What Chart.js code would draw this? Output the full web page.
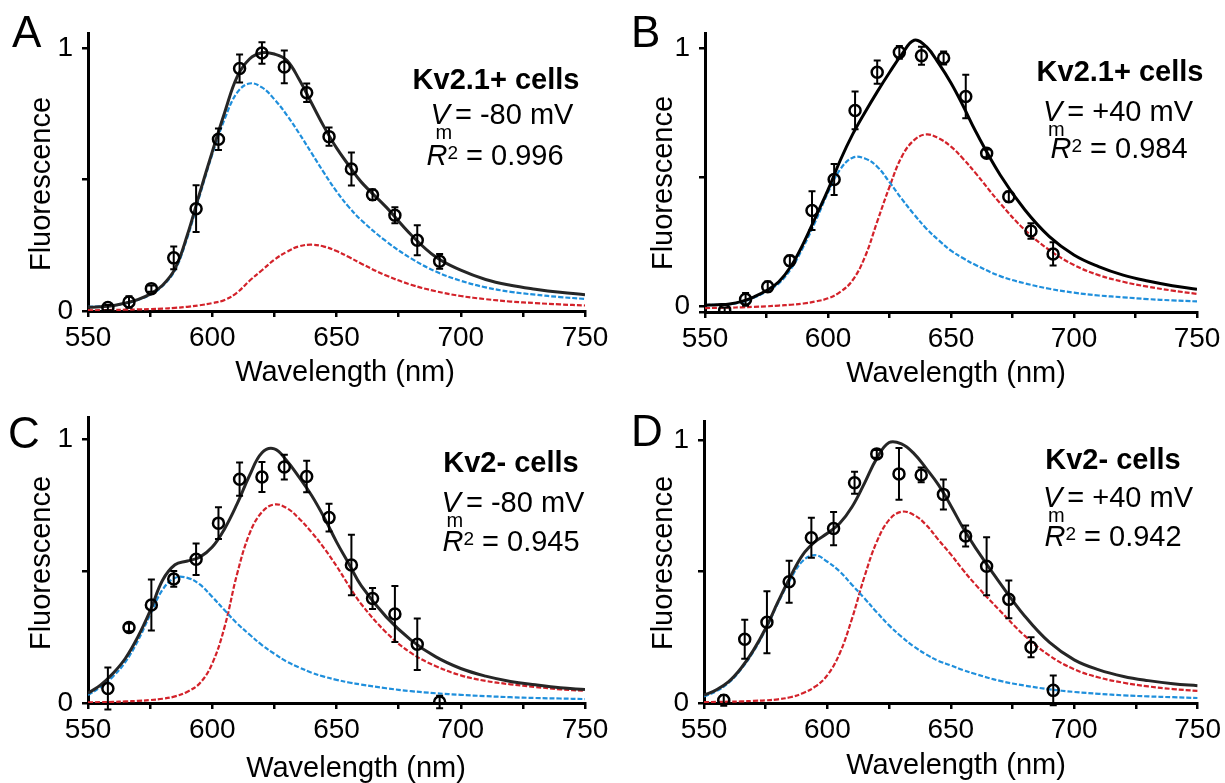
<!DOCTYPE html>
<html>
<head>
<meta charset="utf-8">
<script src="https://cdn.jsdelivr.net/npm/chart.js@4.4.1/dist/chart.umd.min.js"></script>
<style>
  html, body { margin: 0; padding: 0; background: #fff; }
  body { width: 1225px; height: 783px; position: relative; overflow: hidden;
         font-family: "Liberation Sans", Arial, sans-serif; color: #000; }
  canvas { position: absolute; }
  .letter { position: absolute; font-size: 44px; line-height: 44px; }
  .note { position: absolute; font-size: 29px; line-height: 29px; white-space: nowrap;
          transform: translateX(-50%); }
  .vm { position: relative; display: inline-block; font-style: italic; margin-right: 5px; }
  .vm .sub { position: absolute; left: 5px; top: 22px; font-size: 20px; line-height: 20px; font-style: normal; }
  .sup { font-size: 19px; line-height: 0; vertical-align: 6px; }
</style>
</head>
<body>
<canvas id="panelA" width="613" height="392" style="left:0;top:0"></canvas>
<canvas id="panelB" width="612" height="392" style="left:613px;top:0"></canvas>
<canvas id="panelC" width="613" height="391" style="left:0;top:392px"></canvas>
<canvas id="panelD" width="612" height="391" style="left:613px;top:392px"></canvas>

<div class="letter" style="left:12px;top:10px">A</div>
<div class="letter" style="left:631px;top:10px">B</div>
<div class="letter" style="left:8px;top:411px">C</div>
<div class="letter" style="left:631px;top:409px">D</div>

<div class="note" style="left:496px;top:65px"><b>Kv2.1+ cells</b></div>
<div class="note" style="left:502px;top:100px"><span class="vm">V<span class="sub">m</span></span>= -80 mV</div>
<div class="note" style="left:495px;top:141px"><i>R</i><span class="sup">2</span> = 0.996</div>

<div class="note" style="left:1120px;top:57px"><b>Kv2.1+ cells</b></div>
<div class="note" style="left:1118px;top:97px"><span class="vm">V<span class="sub">m</span></span>= +40 mV</div>
<div class="note" style="left:1119px;top:134px"><i>R</i><span class="sup">2</span> = 0.984</div>

<div class="note" style="left:511px;top:448px"><b>Kv2- cells</b></div>
<div class="note" style="left:513px;top:488px"><span class="vm">V<span class="sub">m</span></span>= -80 mV</div>
<div class="note" style="left:511px;top:527px"><i>R</i><span class="sup">2</span> = 0.945</div>

<div class="note" style="left:1113px;top:445px"><b>Kv2- cells</b></div>
<div class="note" style="left:1118px;top:483px"><span class="vm">V<span class="sub">m</span></span>= +40 mV</div>
<div class="note" style="left:1113px;top:522px"><i>R</i><span class="sup">2</span> = 0.942</div>

<script>
// measured wavelengths (nm) of the data points, same for all panels
const wavelengths = [558, 566.5, 575.5, 584.5, 593.5, 602.5, 611, 620, 629, 638, 647, 656, 664.5, 673.5, 682.5, 691.5]
const fitWavelengths = [550, 555, 560, 565, 570, 575, 580, 585, 590, 595, 600, 605, 610, 615, 620, 625,
                        630, 635, 640, 645, 650, 655, 660, 670, 680, 690, 700, 710, 720, 730, 740, 750]

const xTickValues = [550, 575, 600, 625, 650, 675, 700, 725, 750]

// A: Kv2.1+ cells, -80 mV
const aMean = [0.013, 0.034, 0.085, 0.202, 0.389, 0.653, 0.922, 0.981, 0.928, 0.83, 0.663, 0.54, 0.442, 0.364, 0.269, 0.189]
const aErr  = [0.01, 0.022, 0.012, 0.043, 0.089, 0.041, 0.053, 0.041, 0.062, 0.035, 0.035, 0.063, 0.02, 0.03, 0.057, 0.028]
const aFit  = [0.014, 0.016, 0.02, 0.03, 0.043, 0.064, 0.098, 0.16, 0.29, 0.45, 0.605, 0.755, 0.89, 0.958, 0.982, 0.977,
               0.953, 0.88, 0.79, 0.70, 0.62, 0.553, 0.49, 0.395, 0.29, 0.205, 0.155, 0.12, 0.098, 0.083, 0.071, 0.062]
const aBlue = [0.016, 0.018, 0.021, 0.029, 0.042, 0.062, 0.095, 0.155, 0.28, 0.44, 0.595, 0.73, 0.83, 0.865, 0.85, 0.805,
               0.745, 0.675, 0.60, 0.525, 0.455, 0.395, 0.345, 0.265, 0.20, 0.15, 0.115, 0.09, 0.073, 0.062, 0.053, 0.046]
const aRed  = [0.003, 0.003, 0.004, 0.005, 0.006, 0.007, 0.009, 0.012, 0.016, 0.022, 0.03, 0.042, 0.07, 0.115, 0.155, 0.195,
               0.225, 0.246, 0.252, 0.245, 0.228, 0.205, 0.18, 0.135, 0.10, 0.075, 0.057, 0.045, 0.036, 0.03, 0.025, 0.021]

// B: Kv2.1+ cells, +40 mV
const bMean = [-0.016, 0.026, 0.075, 0.176, 0.37, 0.49, 0.758, 0.906, 0.983, 0.97, 0.961, 0.812, 0.592, 0.424, 0.291, 0.202]
const bErr  = [0.01, 0.025, 0.02, 0.02, 0.075, 0.06, 0.073, 0.045, 0.025, 0.035, 0.025, 0.084, 0.015, 0.02, 0.03, 0.045]
const bFit  = [0.003, 0.005, 0.008, 0.018, 0.036, 0.06, 0.094, 0.155, 0.243, 0.346, 0.45, 0.565, 0.665, 0.75, 0.83, 0.905,
               0.975, 1.03, 1.005, 0.94, 0.864, 0.774, 0.677, 0.508, 0.373, 0.269, 0.198, 0.153, 0.12, 0.097, 0.079, 0.065]
const bBlue = [0.004, 0.005, 0.007, 0.016, 0.033, 0.056, 0.088, 0.145, 0.23, 0.33, 0.44, 0.53, 0.575, 0.572, 0.54, 0.48,
               0.415, 0.355, 0.30, 0.255, 0.215, 0.185, 0.159, 0.116, 0.088, 0.067, 0.052, 0.041, 0.034, 0.027, 0.022, 0.018]
const bRed  = [-0.008, -0.007, -0.006, -0.005, -0.003, -0.001, 0.002, 0.005, 0.01, 0.018, 0.03, 0.055, 0.10, 0.19, 0.327, 0.462,
               0.579, 0.643, 0.665, 0.65, 0.618, 0.57, 0.515, 0.398, 0.295, 0.217, 0.159, 0.12, 0.094, 0.075, 0.06, 0.047]

// C: Kv2- cells, -80 mV
const cMean = [0.055, 0.287, 0.372, 0.471, 0.546, 0.683, 0.85, 0.858, 0.896, 0.86, 0.704, 0.524, 0.397, 0.338, 0.223, 0.004]
const cErr  = [0.08, 0.015, 0.097, 0.03, 0.06, 0.06, 0.063, 0.057, 0.047, 0.06, 0.053, 0.115, 0.04, 0.106, 0.098, 0.024]
const cFit  = [0.037, 0.068, 0.112, 0.169, 0.25, 0.35, 0.466, 0.525, 0.539, 0.554, 0.592, 0.662, 0.756, 0.864, 0.95, 0.965,
               0.92, 0.857, 0.788, 0.705, 0.612, 0.528, 0.445, 0.327, 0.239, 0.175, 0.131, 0.102, 0.082, 0.069, 0.058, 0.051]
const cBlue = [0.03, 0.06, 0.10, 0.155, 0.235, 0.335, 0.43, 0.475, 0.475, 0.45, 0.403, 0.352, 0.302, 0.26, 0.22, 0.187,
               0.157, 0.135, 0.115, 0.10, 0.088, 0.078, 0.07, 0.056, 0.045, 0.037, 0.031, 0.026, 0.022, 0.019, 0.017, 0.015]
const cRed  = [0.002, 0.003, 0.004, 0.006, 0.008, 0.011, 0.016, 0.025, 0.043, 0.075, 0.15, 0.29, 0.49, 0.643, 0.725, 0.754,
               0.74, 0.70, 0.648, 0.588, 0.52, 0.445, 0.375, 0.268, 0.19, 0.14, 0.105, 0.084, 0.071, 0.061, 0.052, 0.046]

// D: Kv2- cells, +40 mV
const dMean = [0.01, 0.242, 0.307, 0.461, 0.628, 0.663, 0.837, 0.947, 0.871, 0.867, 0.793, 0.635, 0.52, 0.394, 0.212, 0.048]
const dErr  = [0.02, 0.074, 0.118, 0.08, 0.076, 0.063, 0.042, 0.015, 0.098, 0.028, 0.057, 0.04, 0.11, 0.072, 0.038, 0.057]
const dFit  = [0.03, 0.05, 0.081, 0.132, 0.2, 0.284, 0.385, 0.48, 0.563, 0.613, 0.645, 0.683, 0.746, 0.835, 0.93, 0.99,
               0.985, 0.949, 0.892, 0.829, 0.75, 0.665, 0.59, 0.455, 0.33, 0.23, 0.164, 0.126, 0.101, 0.085, 0.073, 0.066]
const dBlue = [0.025, 0.045, 0.077, 0.128, 0.195, 0.28, 0.38, 0.47, 0.54, 0.562, 0.537, 0.50, 0.449, 0.398, 0.345, 0.295,
               0.252, 0.215, 0.185, 0.16, 0.143, 0.125, 0.11, 0.084, 0.066, 0.052, 0.042, 0.035, 0.029, 0.025, 0.022, 0.019]
const dRed  = [0.003, 0.004, 0.005, 0.006, 0.008, 0.01, 0.014, 0.022, 0.037, 0.062, 0.106, 0.189, 0.322, 0.48, 0.613, 0.696,
               0.727, 0.715, 0.677, 0.62, 0.565, 0.505, 0.45, 0.35, 0.255, 0.18, 0.128, 0.097, 0.077, 0.063, 0.053, 0.046]

const FONT = '"Liberation Sans", Arial, sans-serif'
const BLUE = '#1f8fdc'
const RED = '#d3222a'

const pairs = (xs, ys) => xs.map((x, i) => ({ x: x, y: ys[i] }))

// vertical error bars with small caps, placed via the y scale
const errorBars = {
  id: 'errorBars',
  afterDatasetsDraw(chart) {
    const ctx = chart.ctx
    const yScale = chart.scales.y
    chart.data.datasets.forEach((ds, i) => {
      if (!ds.errors) return
      const meta = chart.getDatasetMeta(i)
      ctx.save()
      ctx.strokeStyle = '#000'
      ctx.lineWidth = 2
      meta.data.forEach((pt, j) => {
        const v = ds.data[j].y
        const top = yScale.getPixelForValue(v + ds.errors[j])
        const bot = yScale.getPixelForValue(v - ds.errors[j])
        ctx.beginPath()
        ctx.moveTo(pt.x, top); ctx.lineTo(pt.x, bot)
        ctx.moveTo(pt.x - 3.5, top); ctx.lineTo(pt.x + 3.5, top)
        ctx.moveTo(pt.x - 3.5, bot); ctx.lineTo(pt.x + 3.5, bot)
        ctx.stroke()
      })
      ctx.restore()
    })
  }
}

const axisTitles = {
  id: 'axisTitles',
  afterDraw(chart, args, opts) {
    const ctx = chart.ctx
    ctx.save()
    ctx.fillStyle = '#000'
    ctx.font = '29px ' + FONT
    ctx.textAlign = 'center'
    ctx.textBaseline = 'middle'
    ctx.fillText('Wavelength (nm)', opts.xCenter, opts.xMiddle)
    ctx.translate(opts.yBaseline, opts.yCenter)
    ctx.rotate(-Math.PI / 2)
    ctx.textBaseline = 'alphabetic'
    ctx.fillText('Fluorescence', 0, 0)
    ctx.restore()
  }
}

const curve = (ys, color, width, dash) => ({
  data: pairs(fitWavelengths, ys),
  showLine: true,
  pointRadius: 0,
  borderColor: color,
  borderWidth: width,
  borderDash: dash,
  tension: 0.4
})

const makePanel = (id, p) => {
  const yTicks = p.yMin < 0 ? [p.yMin, 0, 0.5, 1] : [0, 0.5, 1]
  return new Chart(document.getElementById(id).getContext('2d'), {
    type: 'scatter',
    data: {
      datasets: [
        {
          data: pairs(wavelengths, p.mean),
          errors: p.err,
          pointRadius: 5.5,
          pointBorderWidth: 2.5,
          pointBorderColor: '#000',
          pointBackgroundColor: 'rgba(255,255,255,0)',
          order: 0
        },
        Object.assign(curve(p.fit, p.fitColor, 3, []), { order: 1 }),
        Object.assign(curve(p.blue, BLUE, 2.2, [5, 2]), { order: 2 }),
        Object.assign(curve(p.red, RED, 2.2, [5, 2]), { order: 3 })
      ]
    },
    options: {
      responsive: false,
      animation: false,
      events: [],
      devicePixelRatio: 1,
      layout: { autoPadding: false, padding: { left: 0, top: p.top, right: p.right, bottom: 0 } },
      plugins: {
        legend: { display: false },
        tooltip: { enabled: false },
        axisTitles: p.titles
      },
      scales: {
        x: {
          type: 'linear', min: 550, max: 750,
          afterBuildTicks: s => { s.ticks = xTickValues.map(v => ({ value: v })) },
          afterFit: s => { s.height = p.xHeight },
          ticks: {
            callback: v => (v % 50 === 0 ? String(v) : ''),
            autoSkip: false, maxRotation: 0, padding: 4,
            color: '#000', font: { family: FONT, size: 28 }
          },
          grid: { drawOnChartArea: false, drawTicks: true, tickLength: 6, color: '#000', lineWidth: 2.5 },
          border: { display: true, color: '#000', width: 3 }
        },
        y: {
          min: p.yMin, max: p.yMax,
          afterBuildTicks: s => { s.ticks = yTicks.map(v => ({ value: v })) },
          afterFit: s => { s.width = p.yWidth },
          ticks: {
            callback: v => (v === 0 || v === 1 ? String(v) : ''),
            padding: 9, color: '#000', font: { family: FONT, size: 28 }
          },
          grid: { drawOnChartArea: false, drawTicks: true, tickLength: 6, color: '#000', lineWidth: 2.5 },
          border: { display: true, color: '#000', width: 3 }
        }
      }
    },
    plugins: [errorBars, axisTitles]
  })
}

makePanel('panelA', {
  mean: aMean, err: aErr, fit: aFit, blue: aBlue, red: aRed, fitColor: '#262626',
  yMin: 0, yMax: 1.057, top: 33, right: 28, yWidth: 88, xHeight: 81,
  titles: { xCenter: 345, xMiddle: 373, yBaseline: 50, yCenter: 184 }
})
makePanel('panelB', {
  mean: bMean, err: bErr, fit: bFit, blue: bBlue, red: bRed, fitColor: '#000',
  yMin: -0.023, yMax: 1.058, top: 33, right: 28, yWidth: 92, xHeight: 80,
  titles: { xCenter: 343, xMiddle: 374, yBaseline: 59, yCenter: 183 }
})
makePanel('panelC', {
  mean: cMean, err: cErr, fit: cFit, blue: cBlue, red: cRed, fitColor: '#262626',
  yMin: 0, yMax: 1.083, top: 25, right: 28, yWidth: 88, xHeight: 80,
  titles: { xCenter: 356, xMiddle: 377, yBaseline: 50, yCenter: 171 }
})
makePanel('panelD', {
  mean: dMean, err: dErr, fit: dFit, blue: dBlue, red: dRed, fitColor: '#262626',
  yMin: 0, yMax: 1.072, top: 29, right: 27, yWidth: 91, xHeight: 80,
  titles: { xCenter: 343, xMiddle: 374, yBaseline: 59, yCenter: 171 }
})
</script>
</body>
</html>
